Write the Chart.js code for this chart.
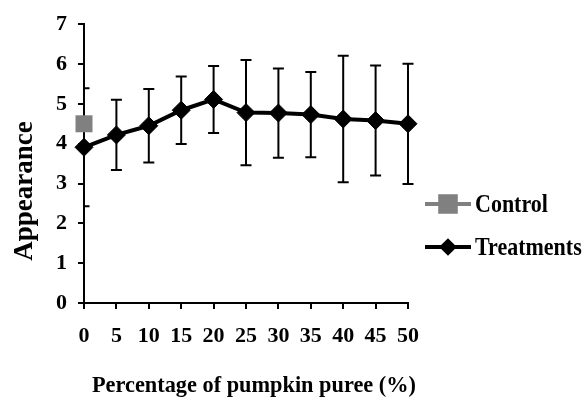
<!DOCTYPE html>
<html>
<head>
<meta charset="utf-8">
<title>Appearance</title>
<script src="https://cdn.jsdelivr.net/npm/chart.js@4/dist/chart.umd.min.js"></script>
<style>
    html, body { margin: 0; padding: 0; background: #fff; }
    #chart { display: block; }
</style>
</head>
<body>
<canvas id="chart" width="586" height="398"></canvas>
<script>
// Appearance score vs. pumpkin puree level
const puree = [0, 5, 10, 15, 20, 25, 30, 35, 40, 45, 50];
const treatMean = [3.91, 4.22, 4.45, 4.84, 5.11, 4.78, 4.77, 4.73, 4.62, 4.58, 4.5];
const treatSd = [1.48, 0.88, 0.92, 0.85, 0.84, 1.32, 1.12, 1.07, 1.59, 1.38, 1.51];
const controlX = [0];
const controlMean = [4.5];
const yTicks = [0, 1, 2, 3, 4, 5, 6, 7];

const SERIF = '"Liberation Serif", "Times New Roman", serif';
const GREY = '#808080';

// narrow bold text, drawn squeezed horizontally
function squeezedText(ctx, text, x, y, size, sx, align) {
    ctx.save();
    ctx.font = 'bold ' + size + 'px ' + SERIF;
    ctx.textAlign = align;
    ctx.translate(x, y);
    ctx.scale(sx, 1);
    ctx.fillText(text, 0, 0);
    ctx.restore();
}

// vertical error bars with caps, clipped at the plot edges
const errorBars = {
    id: 'errorBars',
    beforeDatasetsDraw(chart) {
        const { ctx, chartArea, scales } = chart;
        ctx.save();
        ctx.beginPath();
        ctx.rect(chartArea.left, 0, chartArea.right - chartArea.left + 6, chart.height);
        ctx.clip();
        ctx.strokeStyle = '#000';
        ctx.lineWidth = 2;
        puree.forEach((p, i) => {
            const x = scales.x.getPixelForValue(p);
            const top = scales.y.getPixelForValue(treatMean[i] + treatSd[i]);
            const bot = scales.y.getPixelForValue(treatMean[i] - treatSd[i]);
            ctx.beginPath();
            ctx.moveTo(x, top);
            ctx.lineTo(x, bot);
            ctx.moveTo(x - 5.5, top);
            ctx.lineTo(x + 5.5, top);
            ctx.moveTo(x - 5.5, bot);
            ctx.lineTo(x + 5.5, bot);
            ctx.stroke();
        });
        ctx.restore();
    }
};

// axis titles and the legend on the right
const decorations = {
    id: 'decorations',
    afterDraw(chart) {
        const { ctx } = chart;
        ctx.save();
        ctx.fillStyle = '#000';

        ctx.font = 'bold 27px ' + SERIF;
        ctx.textAlign = 'center';
        ctx.textBaseline = 'middle';
        ctx.translate(25, 191);
        ctx.rotate(-Math.PI / 2);
        ctx.fillText('Appearance', 0, 0);
        ctx.setTransform(1, 0, 0, 1, 0, 0);

        ctx.textBaseline = 'alphabetic';
        squeezedText(ctx, 'Percentage of pumpkin puree (%)', 254, 392, 24, 0.93, 'center');

        const items = [
            { ds: chart.data.datasets[0], y: 204, base: 212 },
            { ds: chart.data.datasets[1], y: 247, base: 255 }
        ];
        items.forEach(it => {
            ctx.strokeStyle = it.ds.borderColor;
            ctx.lineWidth = 4;
            ctx.beginPath();
            ctx.moveTo(425, it.y);
            ctx.lineTo(471, it.y);
            ctx.stroke();
            Chart.helpers.drawPoint(ctx, {
                pointStyle: it.ds.pointStyle,
                radius: it.ds.pointStyle === 'rect' ? 11 : 6,
                borderWidth: 1
            }, 448, it.y);
            ctx.fillStyle = it.ds.backgroundColor;
            ctx.fill();
            ctx.fillStyle = '#000';
            squeezedText(ctx, it.ds.label, 475, it.base, 25, 0.88, 'left');
        });
        ctx.restore();
    }
};

new Chart(document.getElementById('chart'), {
    type: 'line',
    data: {
        datasets: [
            {
                label: 'Control',
                data: controlX.map((x, i) => ({ x, y: controlMean[i] })),
                borderColor: GREY,
                backgroundColor: GREY,
                pointStyle: 'rect',
                pointRadius: 12,
                pointBorderWidth: 0,
                borderWidth: 4,
                clip: false
            },
            {
                label: 'Treatments',
                data: puree.map((x, i) => ({ x, y: treatMean[i] })),
                borderColor: '#000',
                backgroundColor: '#000',
                pointStyle: 'rectRot',
                pointRadius: 9,
                pointBorderWidth: 1,
                borderWidth: 4,
                tension: 0,
                clip: false
            }
        ]
    },
    options: {
        responsive: false,
        animation: false,
        devicePixelRatio: 1,
        layout: { padding: { top: 23, right: 178, left: 0, bottom: 0 } },
        plugins: {
            legend: { display: false },
            tooltip: { enabled: false }
        },
        scales: {
            x: {
                type: 'linear',
                min: 0,
                max: 50,
                afterFit(scale) { scale.height = 95; },
                afterBuildTicks(scale) { scale.ticks = puree.map(v => ({ value: v })); },
                border: { display: true, color: '#000', width: 2 },
                grid: { drawOnChartArea: false, drawTicks: true, tickLength: 6, color: '#000', lineWidth: 2 },
                ticks: {
                    color: '#000',
                    padding: 14,
                    maxRotation: 0,
                    autoSkip: false,
                    font: { family: SERIF, size: 22, weight: 'bold' }
                }
            },
            y: {
                min: 0,
                max: 7,
                afterFit(scale) { scale.width = 84; },
                afterBuildTicks(scale) { scale.ticks = yTicks.map(v => ({ value: v })); },
                border: { display: true, color: '#000', width: 2 },
                grid: { drawOnChartArea: false, drawTicks: true, tickLength: 6, color: '#000', lineWidth: 2 },
                ticks: {
                    color: '#000',
                    padding: 11,
                    font: { family: SERIF, size: 22, weight: 'bold' }
                }
            }
        }
    },
    plugins: [errorBars, decorations]
});
</script>
</body>
</html>
